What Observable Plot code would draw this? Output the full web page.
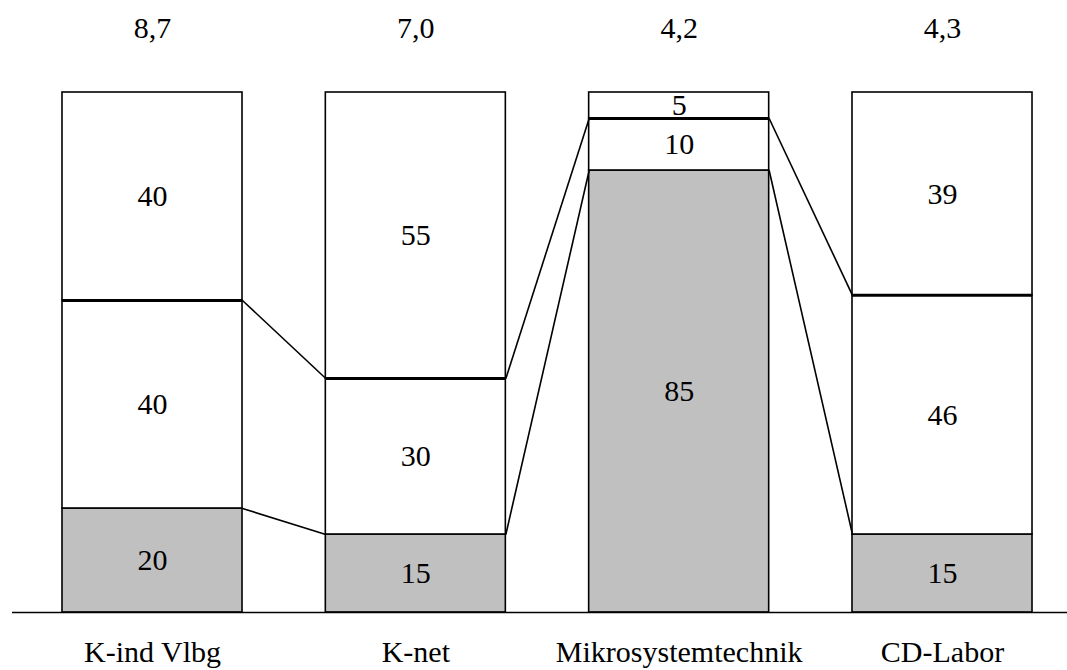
<!DOCTYPE html>
<html>
<head>
<meta charset="utf-8">
<script src="https://cdn.jsdelivr.net/npm/d3@7"></script>
<script src="https://cdn.jsdelivr.net/npm/@observablehq/plot@0.6"></script>
<style>
  html, body { margin: 0; padding: 0; background: #fff; }
</style>
</head>
<body>
<div id="chart"></div>
<script>
const categories = ["K-ind Vlbg", "K-net", "Mikrosystemtechnik", "CD-Labor"];
const totals = ["8,7", "7,0", "4,2", "4,3"];
const bottomShare = [20, 15, 85, 15];
const middleShare = [40, 30, 10, 46];
const topShare = [40, 55, 5, 39];

const hw = 0.3418; // half bar width in category units
const layers = [bottomShare, middleShare, topShare];
const fills = ["#c0c0c0", "#ffffff", "#ffffff"];
const serif = "Liberation Serif";

const segs = [];
categories.forEach((c, i) => {
  let cum = 0;
  layers.forEach((arr, j) => {
    segs.push({i, j, v: arr[i], y1: cum, y2: cum + arr[i], fill: fills[j]});
    cum += arr[i];
  });
});

const bounds = categories.map((c, i) => [bottomShare[i], bottomShare[i] + middleShare[i]]);
const links = [];
for (let i = 0; i < categories.length - 1; i++) {
  for (let b = 0; b < 2; b++) {
    links.push({x1: i + hw, x2: i + 1 - hw, y1: bounds[i][b], y2: bounds[i + 1][b]});
  }
}
const thick = categories.map((c, i) => ({i, y: bounds[i][1]}));
const idx = categories.map((c, i) => i);

const chart = Plot.plot({
  width: 1067,
  height: 670,
  marginTop: 92,
  marginBottom: 58,
  marginLeft: 12,
  marginRight: 0,
  x: {type: "linear", domain: [0, 3], range: [152, 942], axis: null},
  y: {domain: [0, 100], axis: null},
  style: {fontFamily: serif, background: "white", color: "black"},
  marks: [
    Plot.rect(segs, {x1: d => d.i - hw, x2: d => d.i + hw, y1: "y1", y2: "y2", fill: "fill", stroke: "black", strokeWidth: 1.6}),
    Plot.ruleY(thick, {y: "y", x1: d => d.i - hw, x2: d => d.i + hw, stroke: "black", strokeWidth: 3}),
    Plot.link(links, {x1: "x1", x2: "x2", y1: "y1", y2: "y2", stroke: "black", strokeWidth: 1.6}),
    Plot.text(segs, {x: "i", y: d => (d.y1 + d.y2) / 2, text: d => String(d.v), fontSize: 30, fontFamily: serif, fill: "black"}),
    Plot.text(idx, {x: d => d, frameAnchor: "top", lineAnchor: "middle", dy: -64, text: d => totals[d], fontSize: 30, fontFamily: serif, fill: "black"}),
    Plot.text(idx, {x: d => d, frameAnchor: "bottom", lineAnchor: "middle", dy: 40, text: d => categories[d], fontSize: 30, fontFamily: serif, fill: "black"}),
    Plot.ruleY([0], {stroke: "black", strokeWidth: 1.6})
  ]
});
document.getElementById("chart").appendChild(chart);
</script>
</body>
</html>
